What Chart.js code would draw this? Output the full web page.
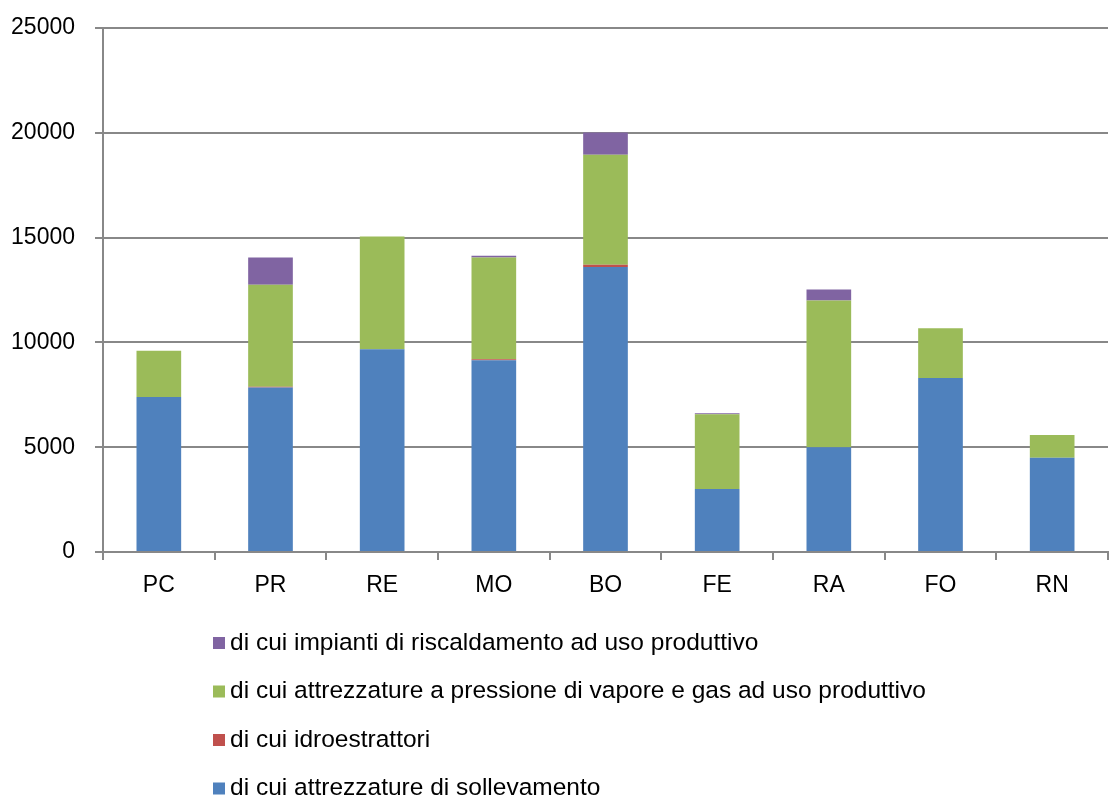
<!DOCTYPE html>
<html>
<head>
<meta charset="utf-8">
<script src="https://cdn.jsdelivr.net/npm/chart.js@4/dist/chart.umd.min.js"></script>
<style>
  html, body { margin: 0; padding: 0; background: #fff; }
  #wrap { width: 1110px; height: 797px; }
</style>
</head>
<body>
<div id="wrap"><canvas id="barChart" width="1110" height="797"></canvas></div>
<script>
// Province (categorie)
const province = ['PC', 'PR', 'RE', 'MO', 'BO', 'FE', 'RA', 'FO', 'RN'];

// Valori
const sollevamento = [7400, 7850, 9670, 9150, 13600, 3000, 5000, 8300, 4500];
const idroestrattori = [0, 30, 0, 50, 100, 0, 0, 0, 0];
const pressione = [2200, 4870, 5380, 4850, 5250, 3570, 7000, 2380, 1080];
const riscaldamento = [0, 1300, 0, 80, 1060, 50, 520, 0, 0];

const yTicks = [0, 5000, 10000, 15000, 20000, 25000];

const FONT = "'Liberation Sans', Arial, sans-serif";

// Legenda verticale disegnata sotto il grafico (ordine inverso)
const legendaVerticale = {
  id: 'legendaVerticale',
  afterDraw(chart) {
    const ctx = chart.ctx;
    const ds = chart.data.datasets.slice().reverse();
    ctx.save();
    ctx.font = '24.5px ' + FONT;
    ctx.textBaseline = 'middle';
    ds.forEach((d, i) => {
      const y = 643 + i * 48.5;
      ctx.fillStyle = d.backgroundColor;
      ctx.fillRect(213, y - 6, 12, 12);
      ctx.fillStyle = '#000';
      ctx.fillText(d.label, 230, y);
    });
    ctx.restore();
  }
};

const ctxBar = document.getElementById('barChart').getContext('2d');
new Chart(ctxBar, {
  type: 'bar',
  data: {
    labels: province,
    datasets: [
      { label: 'di cui attrezzature di sollevamento', data: sollevamento, backgroundColor: '#4F81BD' },
      { label: 'di cui idroestrattori', data: idroestrattori, backgroundColor: '#C0504D' },
      { label: 'di cui attrezzature a pressione di vapore e gas ad uso produttivo', data: pressione, backgroundColor: '#9BBB59' },
      { label: 'di cui impianti di riscaldamento ad uso produttivo', data: riscaldamento, backgroundColor: '#8064A2' }
    ]
  },
  options: {
    responsive: false,
    animation: false,
    layout: { padding: { top: 28, right: 2, left: 0, bottom: 0 } },
    datasets: {
      bar: { barPercentage: 0.4, categoryPercentage: 1.0, borderWidth: 0 }
    },
    scales: {
      x: {
        stacked: true,
        border: { color: '#888', width: 2 },
        grid: { drawOnChartArea: false, color: '#888', lineWidth: 2, tickLength: 8, offset: true },
        ticks: { color: '#000', font: { family: FONT, size: 23 }, padding: 12 },
        afterFit(scale) {
          scale.height = 797 - 552;
          scale.paddingLeft = 0;
          scale.paddingRight = 0;
        }
      },
      y: {
        stacked: true,
        min: 0,
        max: 25000,
        border: { color: '#888', width: 2 },
        grid: { color: '#888', lineWidth: 2, tickLength: 8 },
        ticks: {
          stepSize: 5000,
          color: '#000',
          font: { family: FONT, size: 23 },
          padding: 20,
          callback: v => yTicks.includes(v) ? String(v) : ''
        },
        afterFit(scale) {
          scale.width = 103;
          scale.paddingTop = 0;
          scale.paddingBottom = 0;
        }
      }
    },
    plugins: {
      legend: { display: false },
      tooltip: { enabled: false }
    }
  },
  plugins: [legendaVerticale]
});
</script>
</body>
</html>
